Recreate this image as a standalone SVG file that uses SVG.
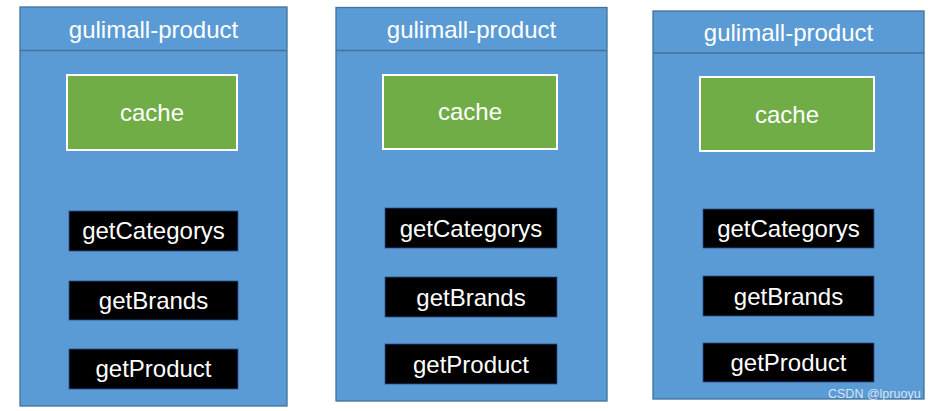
<svg xmlns="http://www.w3.org/2000/svg" width="932" height="411" viewBox="0 0 932 411">
<style>
.panel{fill:#5B9BD5;stroke:#41719C;stroke-width:1.3}
.hline{stroke:#41719C;stroke-width:1.3}
.cache{fill:#70AD47;stroke:#FFFFFF;stroke-width:2}
.fn{fill:#000000;stroke:#2F528F;stroke-width:0.8}
text{font-family:"Liberation Sans",Arial,sans-serif;font-size:24px;fill:#FFFFFF;text-anchor:middle}
.wm{font-size:12.5px;fill:#FFFFFF;fill-opacity:0.75;text-anchor:start}
</style>
<rect width="932" height="411" fill="#FFFFFF"/>
<g id="service1">
<rect class="panel" x="20" y="7" width="267" height="399"/>
<line class="hline" x1="20" y1="50.5" x2="287" y2="50.5"/>
<text x="153.5" y="37.5">gulimall-product</text>
</g>
<g id="cache1"><rect class="cache" x="67" y="75" width="170" height="75"/><text x="152" y="120.5">cache</text></g>
<g id="getCategorys1"><rect class="fn" x="69" y="211" width="169" height="40"/><text x="153.5" y="239">getCategorys</text></g>
<g id="getBrands1"><rect class="fn" x="69" y="281" width="169" height="39"/><text x="153.5" y="308.5">getBrands</text></g>
<g id="getProduct1"><rect class="fn" x="69" y="349" width="169" height="40"/><text x="153.5" y="377">getProduct</text></g>

<g id="service2">
<rect class="panel" x="336" y="7.5" width="271" height="393.5"/>
<line class="hline" x1="336" y1="50.5" x2="607" y2="50.5"/>
<text x="471.5" y="37.5">gulimall-product</text>
</g>
<g id="cache2"><rect class="cache" x="383" y="75" width="174" height="74"/><text x="470" y="120">cache</text></g>
<g id="getCategorys2"><rect class="fn" x="385" y="208" width="172" height="40"/><text x="471" y="236.5">getCategorys</text></g>
<g id="getBrands2"><rect class="fn" x="385" y="277" width="172" height="40"/><text x="471" y="305.5">getBrands</text></g>
<g id="getProduct2"><rect class="fn" x="385" y="344" width="172" height="40"/><text x="471" y="372.5">getProduct</text></g>

<g id="service3">
<rect class="panel" x="653" y="11" width="271" height="388"/>
<line class="hline" x1="653" y1="53" x2="924" y2="53"/>
<text x="788.5" y="41">gulimall-product</text>
</g>
<g id="cache3"><rect class="cache" x="700" y="77" width="174" height="74"/><text x="787" y="122.5">cache</text></g>
<g id="getCategorys3"><rect class="fn" x="703" y="209" width="171" height="39"/><text x="788.5" y="237">getCategorys</text></g>
<g id="getBrands3"><rect class="fn" x="703" y="276" width="171" height="40"/><text x="788.5" y="304.5">getBrands</text></g>
<g id="getProduct3"><rect class="fn" x="703" y="343" width="171" height="39"/><text x="788.5" y="371">getProduct</text></g>

<g id="connectors"></g>
<text class="wm" x="828" y="398">CSDN @lpruoyu</text>
</svg>
